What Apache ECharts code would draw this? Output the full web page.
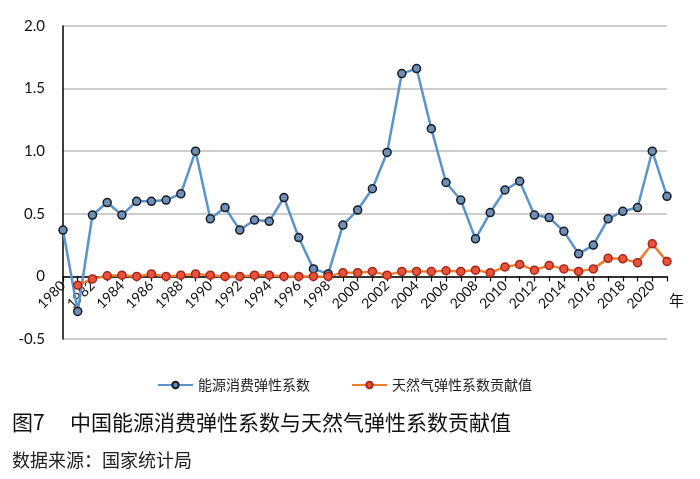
<!DOCTYPE html>
<html>
<head>
<meta charset="utf-8">
<script src="https://cdn.jsdelivr.net/npm/echarts@6/dist/echarts.min.js"></script>
<style>html,body{margin:0;padding:0;background:#fff;}#c{width:700px;height:479px;}</style>
</head>
<body>
<div id="c"></div>
<script>
var years = [];
for (var y = 1980; y <= 2021; y++) years.push(String(y));
var energyElasticity = [0.37,-0.28,0.49,0.59,0.49,0.60,0.60,0.61,0.66,1.00,0.46,0.55,0.37,0.45,0.44,0.63,0.31,0.06,0.02,0.41,0.53,0.70,0.99,1.62,1.66,1.18,0.75,0.61,0.30,0.51,0.69,0.76,0.49,0.47,0.36,0.18,0.25,0.46,0.52,0.55,1.00,0.64];
var gasContribution = [null,-0.07,-0.02,0.005,0.01,0.0,0.02,0.0,0.01,0.02,0.01,0.0,0.0,0.01,0.01,0.0,0.0,0.0,0.0,0.03,0.03,0.04,0.01,0.04,0.04,0.04,0.045,0.04,0.05,0.03,0.075,0.096,0.05,0.088,0.06,0.04,0.06,0.144,0.14,0.11,0.26,0.12];
var seriesNames = ['能源消费弹性系数','天然气弹性系数贡献值'];
var titleText = '中国能源消费弹性系数与天然气弹性系数贡献值';
var figLabel = '图7';
var sourceText = '数据来源：国家统计局';
var unitText = '年';

var font = 'Lato, "Noto Sans CJK SC", sans-serif';
var cjk = '"Noto Sans CJK SC", sans-serif';
var gridTop = 26, gridBottom = 140, yMin = -0.5, yMax = 2;
var plotH = 479 - gridTop - gridBottom;
var zeroOffset = -plotH * (0 - yMin) / (yMax - yMin);

var chart = echarts.init(document.getElementById('c'));
chart.setOption({
  animation: false,
  backgroundColor: '#fff',
  grid: {left: 63, right: 33, top: gridTop, bottom: gridBottom, containLabel: false},
  legend: {
    left: 152, top: 373,
    itemWidth: 35, itemHeight: 8, itemGap: 41,
    textStyle: {fontSize: 14, color: '#222', fontFamily: cjk},
    data: seriesNames
  },
  xAxis: {
    type: 'category',
    data: years,
    boundaryGap: false,
    position: 'bottom',
    offset: zeroOffset,
    axisLine: {onZero: false, lineStyle: {color: '#000', width: 1.5}},
    axisTick: {show: true, interval: 0, length: 5, lineStyle: {color: '#000', width: 1.2}},
    axisLabel: {interval: 1, rotate: 45, margin: 7, fontSize: 14, color: '#111', fontFamily: font},
    splitLine: {show: false}
  },
  yAxis: {
    type: 'value',
    min: yMin, max: yMax, interval: 0.5,
    axisLine: {show: true, lineStyle: {color: '#000', width: 1.5}},
    axisTick: {show: false},
    axisLabel: {margin: 18, fontSize: 15, color: '#111', fontFamily: font,
      formatter: function (v) { return v === 0 ? '0' : v.toFixed(1); }},
    splitLine: {show: true, lineStyle: {color: '#bdbdbd', width: 1.5}}
  },
  series: [
    {
      name: seriesNames[0], type: 'line', data: energyElasticity,
      symbol: 'circle', symbolSize: 8, showAllSymbol: true,
      lineStyle: {color: '#5b93cd', width: 2.5},
      itemStyle: {color: '#6f8fb4', borderColor: '#151a24', borderWidth: 1.5},
      z: 3
    },
    {
      name: seriesNames[1], type: 'line', data: gasContribution,
      symbol: 'circle', symbolSize: 8, showAllSymbol: true,
      lineStyle: {color: '#ee7d31', width: 2.5},
      itemStyle: {color: '#e9533a', borderColor: '#a8251a', borderWidth: 1.5},
      z: 4
    }
  ],
  graphic: [
    {type: 'text', left: 669, top: 293, style: {text: unitText, fontSize: 15, fill: '#111', fontFamily: cjk}},
    {type: 'text', left: 12, top: 412, style: {text: figLabel, fontSize: 21, fill: '#111', fontFamily: cjk}},
    {type: 'text', left: 70, top: 412, style: {text: titleText, fontSize: 21, fill: '#111', fontFamily: cjk}},
    {type: 'text', left: 12, top: 451, style: {text: sourceText, fontSize: 18, fill: '#222', fontFamily: cjk}}
  ]
});
</script>
</body>
</html>
